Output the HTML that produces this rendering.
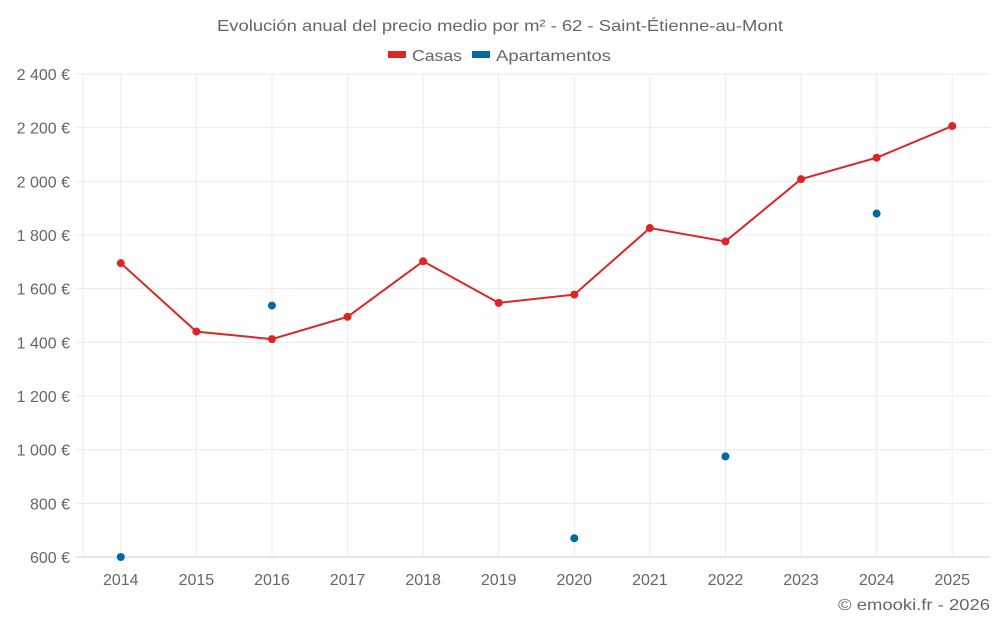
<!DOCTYPE html>
<html><head><meta charset="utf-8"><style>
body{margin:0;background:#fff}
svg text{font-family:"Liberation Sans",sans-serif;fill:#666}
</style></head><body>
<svg id="c" width="1000" height="625">
<text x="217" y="31" font-size="16" textLength="566" lengthAdjust="spacingAndGlyphs">Evolución anual del precio medio por m² - 62 - Saint-Étienne-au-Mont</text>
<g>
<g><rect x="388" y="51" width="18" height="7" fill="#dc2626"/><text x="412" y="61" font-size="16" textLength="50" lengthAdjust="spacingAndGlyphs">Casas</text></g>
<g><rect x="472" y="51" width="18" height="7" fill="#0369a1"/><text x="496" y="61" font-size="16" textLength="115" lengthAdjust="spacingAndGlyphs">Apartamentos</text></g>
</g>
<g id="grid"></g><g id="axes"></g><g id="marks"></g>
<text x="838" y="610" font-size="16" textLength="152" lengthAdjust="spacingAndGlyphs">© emooki.fr - 2026</text>
</svg>
<script>
const years=[2014,2015,2016,2017,2018,2019,2020,2021,2022,2023,2024,2025];
const casas=[1695,1440,1412,1495,1702,1547,1578,1826,1776,2008,2088,2206];
const apartamentos=[600,null,1537,null,null,null,670,null,975,null,1880,null];
const yTicks=[600,800,1000,1200,1400,1600,1800,2000,2200,2400];
const yTickLabels=["600 €","800 €","1 000 €","1 200 €","1 400 €","1 600 €","1 800 €","2 000 €","2 200 €","2 400 €"];
const L=83,R=990,T=74,B=557,NS="http://www.w3.org/2000/svg";
const band=(R-L)/years.length;
const x=i=>L+band*(i+0.5);
const y=v=>B-(v-600)/(2400-600)*(B-T);
function mk(p,t,a){const e=document.createElementNS(NS,t);for(const k in a)e.setAttribute(k,a[k]);document.getElementById(p).appendChild(e);return e;}
yTicks.forEach((v,i)=>{
 const g=mk('grid','line',{x1:76,x2:R,y1:y(v),y2:y(v),stroke:i==0?'#ccc':'#ebebeb'});
 
 
 const t=mk('axes','text',{x:70,y:y(v)+6,'text-anchor':'end','font-size':16});
 t.textContent=yTickLabels[i];
 
 
});
const ax=mk('grid','line',{x1:L,x2:L,y1:T,y2:B,stroke:'#ebebeb'});


years.forEach((yr,i)=>{
 const g=mk('grid','line',{x1:x(i),x2:x(i),y1:T,y2:B,stroke:'#ebebeb'});
 
 
 const t=mk('axes','text',{x:x(i),y:585,'text-anchor':'middle','font-size':16});
 t.textContent=yr;
 
 
});
const ln=mk('marks','polyline',{points:casas.map((v,i)=>x(i)+','+y(v)).join(' '),fill:'none',stroke:'#dc2626','stroke-width':2});


casas.forEach((v,i)=>{
 const c=mk('marks','circle',{cx:x(i),cy:y(v),r:4,fill:'#dc2626'});
 
 
});
apartamentos.forEach((v,i)=>{
 if(v==null)return;
 const c=mk('marks','circle',{cx:x(i),cy:y(v),r:4,fill:'#0369a1'});
 
 
});
</script>
</body></html>
